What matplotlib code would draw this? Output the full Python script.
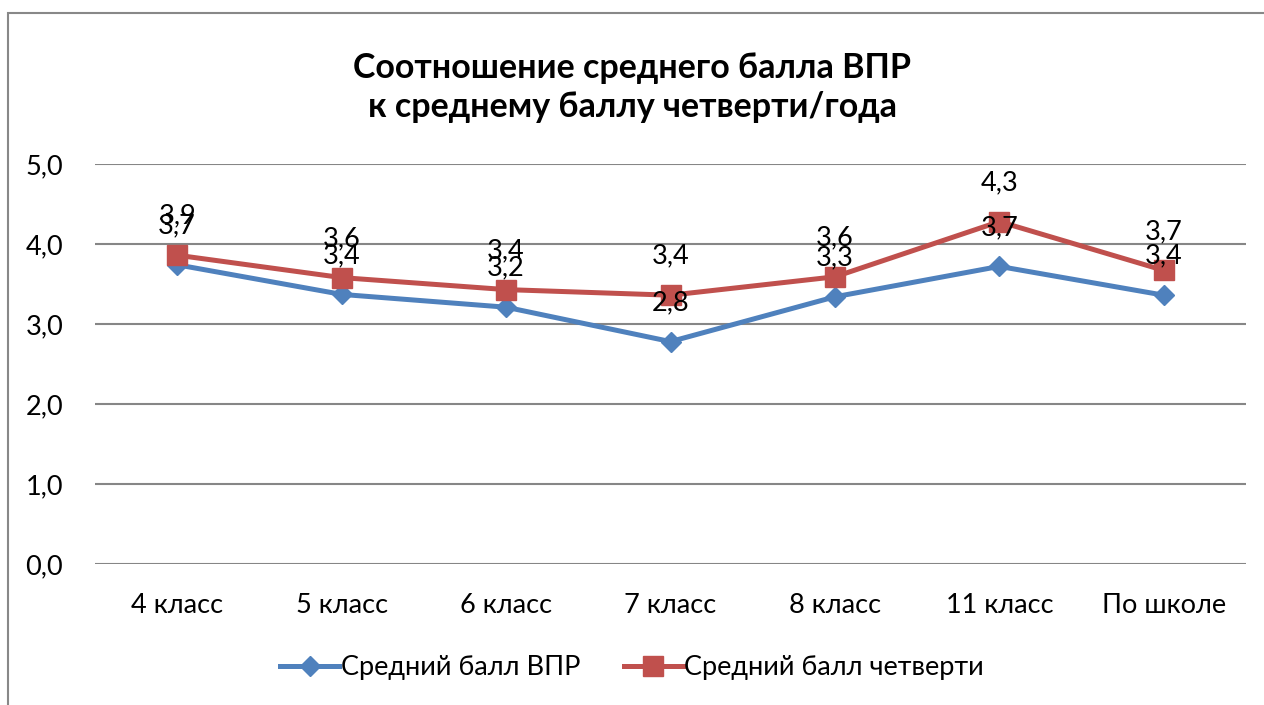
import matplotlib
matplotlib.use("Agg")
import matplotlib.pyplot as plt
from matplotlib.patches import Rectangle
from matplotlib.ticker import FuncFormatter

categories = ["4 класс", "5 класс", "6 класс", "7 класс", "8 класс", "11 класс", "По школе"]
vpr = [3.74, 3.37, 3.21, 2.78, 3.34, 3.72, 3.36]
quarter = [3.86, 3.58, 3.43, 3.36, 3.59, 4.28, 3.67]
series_names = ["Средний балл ВПР", "Средний балл четверти"]
title_lines = ["Соотношение среднего балла ВПР", "к среднему баллу четверти/года"]
yticks = [0, 1, 2, 3, 4, 5]

plt.rcParams['font.family'] = ['Lato', 'DejaVu Sans']

fig = plt.figure(figsize=(12.64, 7.05), dpi=100)
ax = fig.add_axes([95/1264, 1-564/705, 1151/1264, 400/705])

blue = "#4F81BD"
red = "#C0504D"
x = list(range(len(categories)))
ax.plot(x, vpr, color=blue, lw=3.6, marker="D", ms=10, label=series_names[0], zorder=3)
ax.plot(x, quarter, color=red, lw=3.6, marker="s", ms=14, label=series_names[1], zorder=4)

def fmt(v):
    return f"{v:.1f}".replace(".", ",")

FS = 19.5
for xi, v in zip(x, vpr):
    ax.annotate(fmt(v), (xi, v), xytext=(0, 28), textcoords="offset points",
                ha="center", va="center", fontsize=FS, zorder=5)
for xi, v in zip(x, quarter):
    ax.annotate(fmt(v), (xi, v), xytext=(0, 28), textcoords="offset points",
                ha="center", va="center", fontsize=FS, zorder=5)

ax.set_xlim(-0.5, len(categories) - 0.5)
ax.set_ylim(0, 5)
ax.set_yticks(yticks)
ax.yaxis.set_major_formatter(FuncFormatter(lambda v, p: fmt(v)))
ax.set_xticks(x)
ax.set_xticklabels(categories)
ax.tick_params(axis="both", length=0, labelsize=FS)
ax.tick_params(axis="y", pad=23)
ax.tick_params(axis="x", pad=21)
ax.grid(axis="y", color="#868686", lw=1.5, zorder=0)
for s in ax.spines.values():
    s.set_visible(False)

fig.text(0.5, 1-68/705, title_lines[0], ha="center", va="center",
         fontsize=24.5, fontweight="bold")
fig.text(0.5, 1-107/705, title_lines[1], ha="center", va="center",
         fontsize=24.5, fontweight="bold")

fig.legend(loc="center", bbox_to_anchor=(0.5, 1-668/705), ncol=2, frameon=False,
           fontsize=FS, handlelength=2.2, columnspacing=1.6, handletextpad=0.05)

fig.patches.append(Rectangle((8/1264, -0.1), 1.2, 1-13/705+0.1, transform=fig.transFigure,
                             fill=False, edgecolor="#888888", lw=1.5))

fig.savefig("out.png", dpi=100)
